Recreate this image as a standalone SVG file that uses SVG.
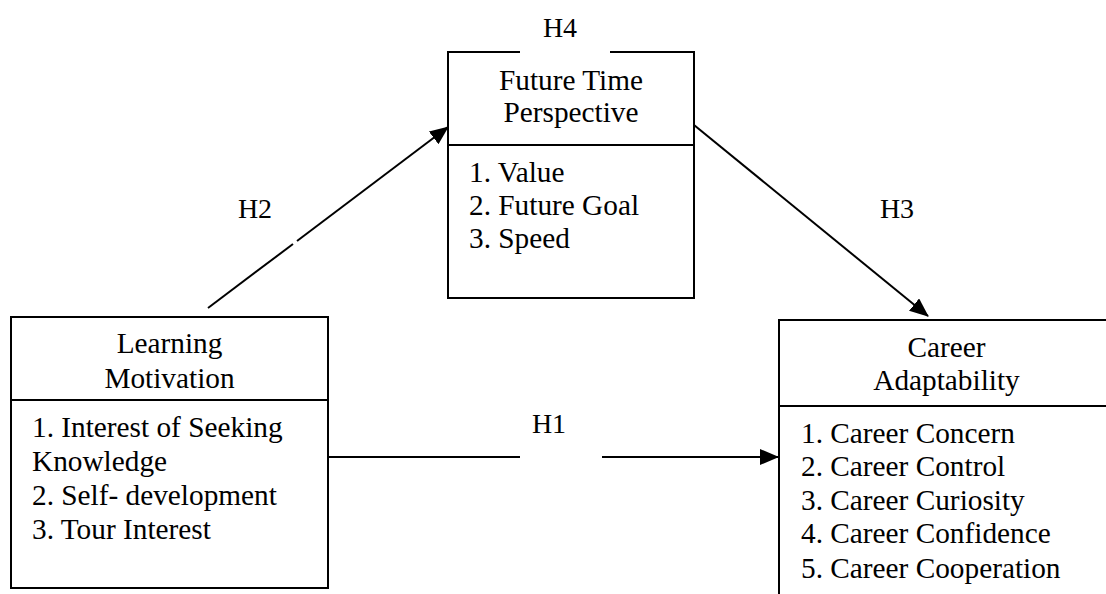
<svg xmlns="http://www.w3.org/2000/svg" width="1106" height="594" viewBox="0 0 1106 594">
<style>
.box{fill:none;stroke:#000;stroke-width:2}
.ln{fill:none;stroke:#000;stroke-width:2}
text{font-family:"Liberation Serif","Times New Roman",serif;font-size:29.3px;fill:#000}
.h{font-size:28px}
.c{text-anchor:middle}
</style>
<defs>
<marker id="ah" markerUnits="userSpaceOnUse" markerWidth="20" markerHeight="16" refX="18" refY="8" orient="auto">
<path d="M0,0 L19,8 L0,16 Z" fill="#000"/>
</marker>
</defs>
<rect width="1106" height="594" fill="#fff"/>
<g id="ftp">
<path class="box" d="M520,52 H448 V298 H694 V52 H610 M448,145 H694"/>
<text class="c" x="571" y="90">Future Time</text>
<text class="c" x="571" y="122">Perspective</text>
<text x="469" y="182">1. Value</text>
<text x="469" y="215">2. Future Goal</text>
<text x="469" y="248">3. Speed</text>
</g>
<g id="lm">
<rect class="box" x="11" y="317" width="317" height="271"/>
<line class="ln" x1="11" y1="400" x2="328" y2="400"/>
<text class="c" x="169.5" y="353">Learning</text>
<text class="c" x="169.5" y="388">Motivation</text>
<text x="32" y="437">1. Interest of Seeking</text>
<text x="32" y="471">Knowledge</text>
<text x="32" y="505">2. Self- development</text>
<text x="32" y="539">3. Tour Interest</text>
</g>
<g id="ca">
<rect class="box" x="779" y="320" width="340" height="300"/>
<line class="ln" x1="779" y1="406" x2="1110" y2="406"/>
<text class="c" x="946.5" y="357">Career</text>
<text class="c" x="946.5" y="390">Adaptability</text>
<text x="801" y="443">1. Career Concern</text>
<text x="801" y="476">2. Career Control</text>
<text x="801" y="510">3. Career Curiosity</text>
<text x="801" y="543">4. Career Confidence</text>
<text x="801" y="578">5. Career Cooperation</text>
</g>
<g id="connectors">
<line class="ln" x1="208" y1="308" x2="293" y2="244"/>
<line class="ln" x1="297" y1="241" x2="448" y2="127" marker-end="url(#ah)"/>
<line class="ln" x1="694" y1="125" x2="928" y2="316" marker-end="url(#ah)"/>
<path class="ln" d="M328,457 H520"/>
<line class="ln" x1="602" y1="457" x2="778" y2="457" marker-end="url(#ah)"/>
</g>
<g id="labels">
<text class="c h" x="560" y="37">H4</text>
<text class="c h" x="255" y="218">H2</text>
<text class="c h" x="897" y="218">H3</text>
<text class="c h" x="549" y="433">H1</text>
</g>
</svg>
